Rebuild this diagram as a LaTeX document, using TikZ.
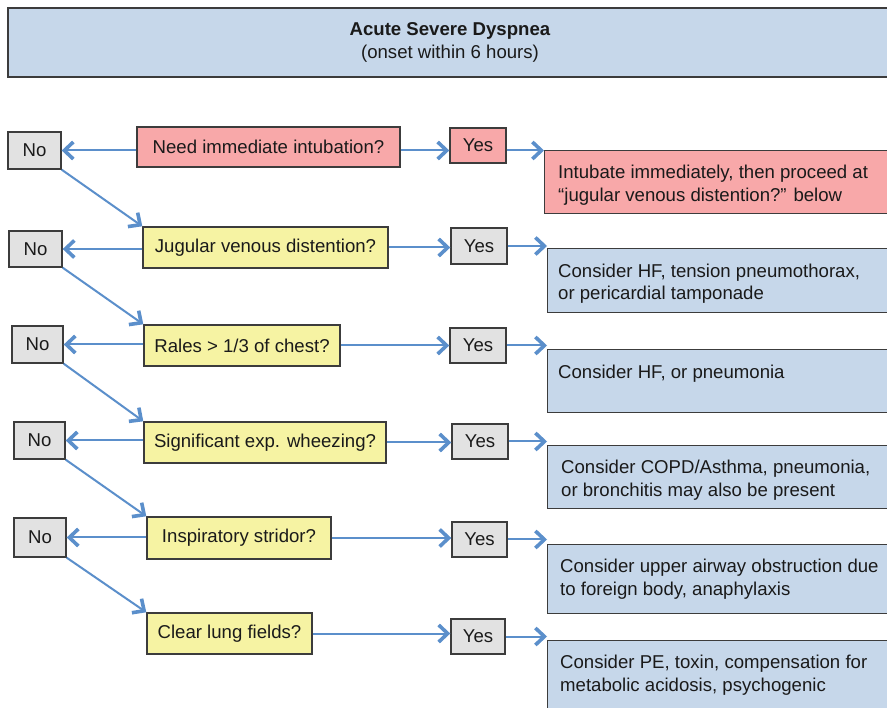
\documentclass[tikz,border=0pt]{standalone}
\usepackage{fontspec}
\setmainfont{Liberation Sans}
\usetikzlibrary{arrows.meta,calc}
\definecolor{bordc}{HTML}{3C3C3C}
\definecolor{txtc}{HTML}{1A1A1A}
\definecolor{redc}{HTML}{F8A8A9}
\definecolor{yelc}{HTML}{F6F3A3}
\definecolor{grayc}{HTML}{E2E2E2}
\definecolor{bluec}{HTML}{C6D7EA}
\definecolor{arrc}{HTML}{5B8FCB}
\tikzset{
  basebox/.style={draw=bordc, line width=1.4pt, inner sep=0pt, text=txtc,
    font=\fontsize{18.6}{23}\selectfont},
  nobox/.style={basebox, fill=grayc, minimum width=52, minimum height=37},
  yesbox/.style={basebox, fill=grayc, minimum width=56, minimum height=35},
  qbox/.style={basebox, fill=yelc, minimum height=41},
  resbox/.style={basebox, fill=bluec, anchor=north west, minimum width=360},
  restext/.style={inner sep=0pt, anchor=north west, align=left, text=txtc,
    font=\fontsize{18.6}{22.5}\selectfont},
  arr/.style={draw=arrc, line width=2pt,
    -{Straight Barb[length=9pt,width=17pt,line width'=3.6pt]}}
}
\begin{document}
\begin{tikzpicture}[x=1pt,y=-1pt]
\useasboundingbox (0,0) rectangle (887,708);
\fill[white] (0,0) rectangle (887,708);

% title
\node[basebox, fill=bluec, minimum width=884, minimum height=69, align=center] (title) at (450,42.5)
  {\textbf{Acute Severe Dyspnea}\\(onset within 6 hours)};

% row 1
\node[nobox, minimum width=53] (no1) at (34.5,150.5) {No};
\node[qbox, fill=redc, minimum width=263, minimum height=40] (q1) at (268.5,147) {Need immediate intubation?};
\node[yesbox, fill=redc] (yes1) at (478,145.5) {Yes};
\node[resbox, fill=redc, minimum height=63] (r1) at (544,150) {};
\node[restext] (t1) at ($(r1.north west)+(14,15)$) {Intubate immediately, then proceed at\\“jugular venous distention?” below};

% row 2
\node[nobox, minimum width=53, minimum height=36] (no2) at (35.5,249) {No};
\node[qbox, minimum width=245] (q2) at (265.5,247.5) {Jugular venous distention?};
\node[yesbox, minimum height=36] (yes2) at (479,246) {Yes};
\node[resbox, minimum height=64] (r2) at (547,248) {};
\node[restext] (t2) at ($(r2.north west)+(11,15.5)$) {Consider HF, tension pneumothorax,\\or pericardial tamponade};

% row 3
\node[nobox, minimum width=51] (no3) at (37.5,344.5) {No};
\node[qbox, minimum width=196] (q3) at (242,345.5) {Rales > 1/3 of chest?};
\node[yesbox] (yes3) at (478,345.5) {Yes};
\node[resbox, minimum height=63] (r3) at (547,349) {};
\node[restext] (t3) at ($(r3.north west)+(11,15.5)$) {Consider HF, or pneumonia};

% row 4
\node[nobox, minimum width=51] (no4) at (39.5,440.5) {No};
\node[qbox, minimum width=242] (q4) at (265,442.5) {Significant exp. wheezing?};
\node[yesbox] (yes4) at (480,441.5) {Yes};
\node[resbox, minimum height=63] (r4) at (547,445) {};
\node[restext] (t4) at ($(r4.north west)+(14,15)$) {Consider COPD/Asthma, pneumonia,\\or bronchitis may also be present};

% row 5
\node[nobox, minimum height=39] (no5) at (40,537.5) {No};
\node[qbox, minimum width=184, minimum height=42] (q5) at (239,538) {Inspiratory stridor?};
\node[yesbox, minimum width=55] (yes5) at (479.5,539.5) {Yes};
\node[resbox, minimum height=69] (r5) at (547,544) {};
\node[restext] (t5) at ($(r5.north west)+(13,15)$) {Consider upper airway obstruction due\\to foreign body, anaphylaxis};

% row 6
\node[qbox, minimum width=165] (q6) at (229.5,633.5) {Clear lung fields?};
\node[yesbox, minimum width=54] (yes6) at (478,636.5) {Yes};
\node[resbox, minimum height=90] (r6) at (547,640) {};
\node[restext] (t6) at ($(r6.north west)+(13,15)$) {Consider PE, toxin, compensation for\\metabolic acidosis, psychogenic};

% arrows: question -> No
\foreach \i in {1,...,5}{
  \draw[arr] (q\i.west |- no\i.east) -- (no\i.east);
}
% No -> next question
\foreach \i/\j in {1/2,2/3,3/4,4/5,5/6}{
  \draw[arr] (no\i.south east) -- (q\j.north west);
}
% row 1: question -> Yes -> result (at the level of the No arrow)
\draw[arr] (q1.east |- no1.east) -- (yes1.west |- no1.east);
\draw[arr] (yes1.east |- no1.east) -- (r1.west |- no1.east);
% other rows
\foreach \i in {2,...,6}{
  \draw[arr] (q\i.east) -- (q\i.east -| yes\i.west);
  \draw[arr] (yes\i.east) -- (yes\i.east -| r\i.west);
}
\end{tikzpicture}
\end{document}
